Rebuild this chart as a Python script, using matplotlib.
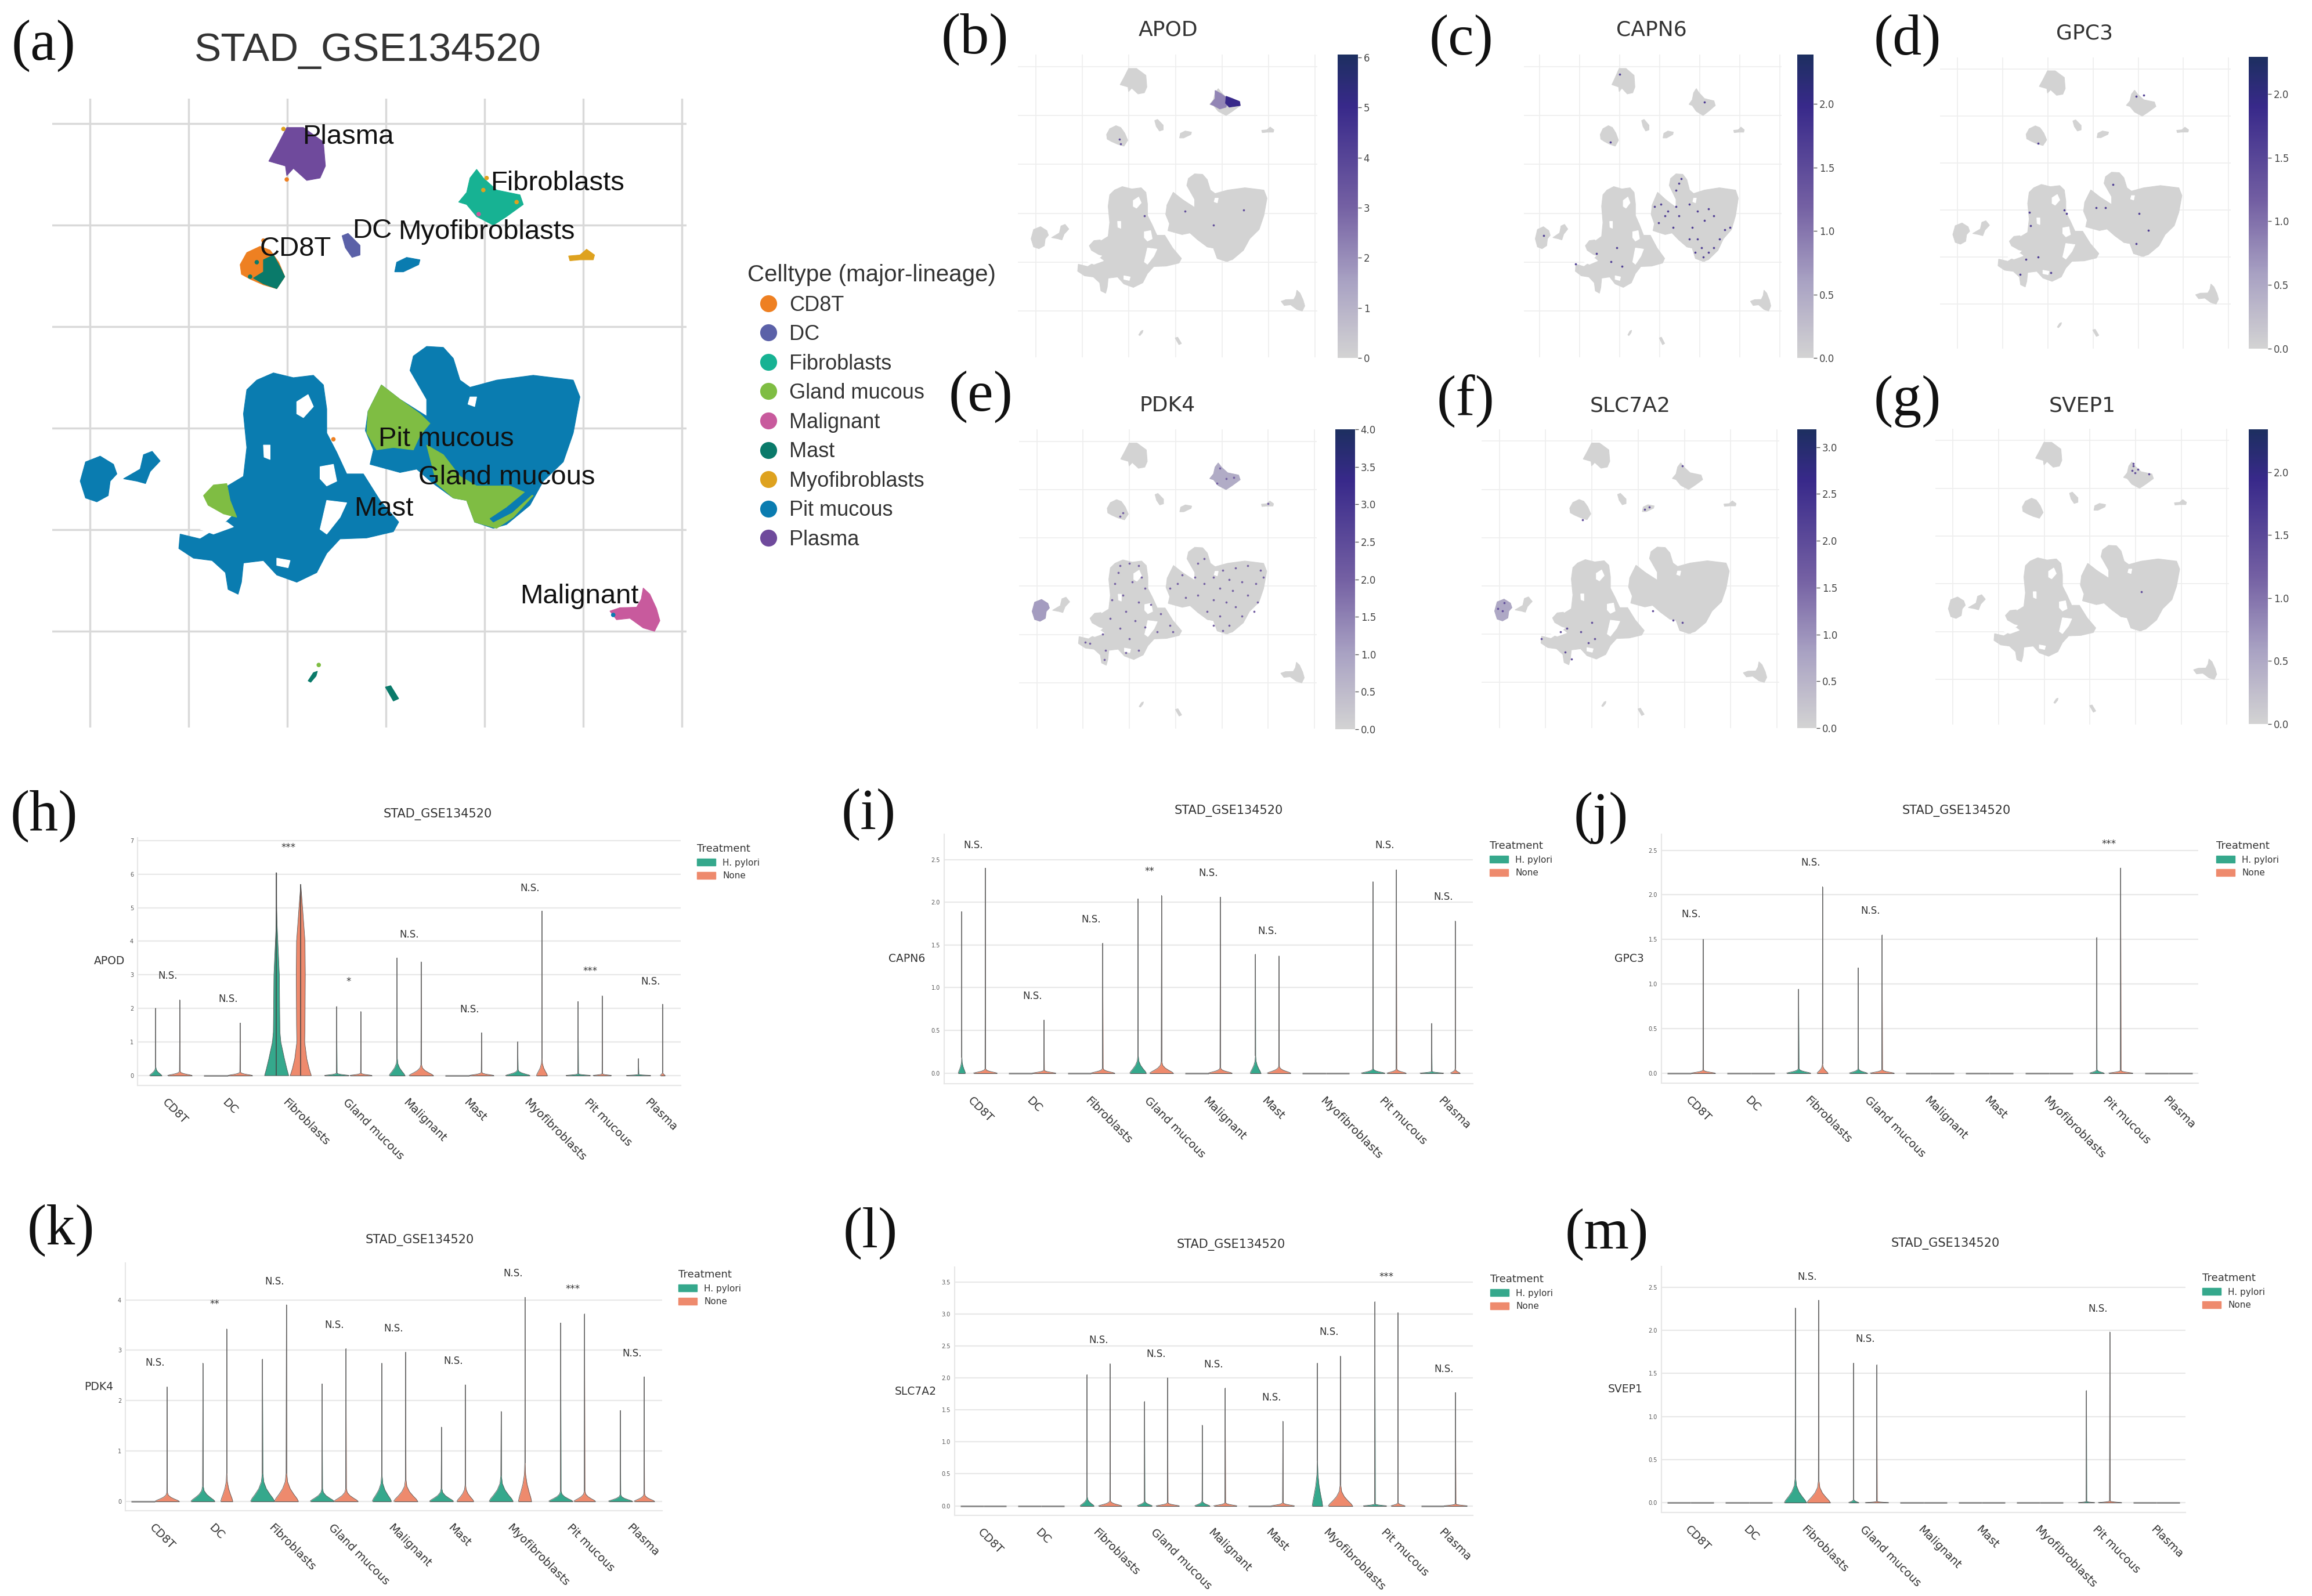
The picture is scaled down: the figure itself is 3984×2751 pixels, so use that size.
import numpy as np
import matplotlib
matplotlib.use("Agg")
import matplotlib.pyplot as plt
from matplotlib.colors import LinearSegmentedColormap, Normalize
from matplotlib.cm import ScalarMappable
from matplotlib.lines import Line2D
from matplotlib.patches import Patch

W, H = 3984, 2751
SANS = "Liberation Sans"
SERIF = "Liberation Serif"

celltypes = ["CD8T", "DC", "Fibroblasts", "Gland mucous", "Malignant", "Mast",
             "Myofibroblasts", "Pit mucous", "Plasma"]
celltype_colors = ["#ee8022", "#5b61a8", "#17b293", "#7fbd43", "#c85a9d", "#0a7a6a",
                   "#dea21f", "#0a7cb0", "#6f4a9c"]
GREY = "#d3d3d3"
HP_COLOR = "#35a88c"
NONE_COLOR = "#ee8a6d"

# umap outlines, one unit = one pixel of the zoomed panel (a)
pit_left = [(385, 790), (410, 775), (440, 785), (470, 780), (485, 800), (490, 850), (490, 900), (505, 940),
            (520, 985), (545, 985), (570, 1040), (598, 1085), (590, 1105), (550, 1118), (510, 1120), (490, 1150),
            (475, 1190), (445, 1210), (415, 1195), (395, 1165), (365, 1170), (362, 1210), (357, 1235), (342, 1225),
            (338, 1190), (318, 1165), (290, 1160), (268, 1140), (270, 1110), (300, 1120), (335, 1090), (350, 1070),
            (340, 1040), (335, 1015), (365, 990), (370, 930), (365, 860), (370, 810)]
pit_right = [(620, 740), (640, 720), (665, 722), (680, 745), (690, 790), (705, 805), (745, 790), (800, 780),
             (860, 790), (870, 825), (860, 900), (845, 960), (815, 1000), (795, 1050), (760, 1090), (740, 1098),
             (712, 1085), (700, 1040), (680, 1035), (650, 1005), (625, 975), (600, 982), (555, 965), (560, 935),
             (548, 895), (552, 855), (572, 800), (600, 830), (640, 865), (640, 830), (615, 770)]
pit_satellite = [(120, 1000), (128, 960), (150, 948), (170, 965), (175, 985), (165, 1000), (162, 1030), (145, 1043),
                 (128, 1035)]
pit_satellite_2 = [(215, 945), (228, 938), (240, 958), (225, 980), (218, 1005), (205, 1000), (185, 995), (210, 975)]
pit_small = [(595, 545), (610, 535), (630, 540), (628, 550), (605, 565), (592, 565)]
gland_left = [(305, 1030), (320, 1008), (340, 1005), (345, 1040), (355, 1075), (335, 1068), (312, 1050)]
gland_upper = [(572, 800), (600, 830), (630, 860), (645, 880), (630, 905), (620, 935), (590, 930), (565, 935),
               (550, 900), (552, 855)]
gland_lower = [(640, 925), (665, 945), (690, 990), (715, 1010), (765, 1010), (790, 1025), (800, 1030), (770, 1075),
               (745, 1098), (712, 1085), (700, 1040), (680, 1035), (655, 1005)]
pit_streak = [(735, 1078), (760, 1055), (795, 1015), (800, 1025), (768, 1065), (740, 1085)]
malignant = [(965, 1222), (975, 1235), (985, 1265), (990, 1290), (982, 1312), (965, 1305), (945, 1285), (925, 1288),
             (915, 1270), (930, 1263), (955, 1262), (962, 1245)]
plasma = [(430, 265), (455, 265), (485, 295), (488, 345), (480, 370), (460, 375), (440, 350), (430, 365), (428, 345),
          (403, 335), (415, 305)]
fibroblasts = [(715, 352), (725, 370), (745, 395), (780, 405), (785, 425), (760, 450), (740, 468), (715, 450),
               (700, 425), (688, 420), (700, 400), (705, 370)]
dc = [(513, 490), (522, 485), (540, 510), (540, 530), (528, 535), (518, 515)]
myofibroblasts = [(853, 532), (870, 530), (880, 518), (892, 530), (890, 540), (870, 540), (855, 542)]
cd8t = [(360, 550), (370, 525), (390, 512), (405, 520), (418, 545), (427, 575), (415, 600), (395, 592), (375, 580),
        (362, 570)]
mast_on_cd8t = [(395, 540), (410, 530), (420, 555), (427, 575), (415, 600), (395, 590), (380, 578), (395, 565)]
mast_small_1 = [(462, 1415), (470, 1398), (476, 1395), (474, 1405), (466, 1418)]
mast_small_2 = [(578, 1428), (586, 1425), (598, 1452), (590, 1457)]

holes = [
    [(445, 835), (462, 820), (470, 845), (455, 868), (445, 860)],
    [(480, 970), (500, 965), (505, 1000), (490, 1010), (480, 995)],
    [(490, 1040), (520, 1045), (510, 1075), (490, 1110), (480, 1100)],
    [(300, 1100), (340, 1085), (350, 1095), (320, 1110)],
    [(395, 925), (405, 925), (405, 955), (396, 950)],
    [(705, 825), (715, 825), (712, 845), (702, 840)],
    [(415, 1160), (435, 1165), (432, 1180), (415, 1175)],
]

main_polygons = [
    (pit_left, "Pit mucous"), (pit_right, "Pit mucous"), (pit_satellite, "Pit mucous"),
    (pit_satellite_2, "Pit mucous"), (pit_small, "Pit mucous"), (gland_left, "Gland mucous"),
    (gland_upper, "Gland mucous"), (gland_lower, "Gland mucous"), (pit_streak, "Pit mucous"),
    (malignant, "Malignant"), (plasma, "Plasma"), (fibroblasts, "Fibroblasts"), (dc, "DC"),
    (myofibroblasts, "Myofibroblasts"), (cd8t, "CD8T"), (mast_on_cd8t, "Mast"),
    (mast_small_1, "Mast"), (mast_small_2, "Mast"),
]

label_names = ["Plasma", "Fibroblasts", "DC", "Myofibroblasts", "CD8T", "Pit mucous", "Gland mucous", "Mast", "Malignant"]
label_x = [522, 836, 558, 730, 443, 669, 760, 576, 869]
label_y = [285, 381, 480, 482, 517, 913, 992, 1057, 1240]

# stray cells in (a)
stray_x = [730, 775, 725, 718, 500, 430, 478, 920, 375, 385, 405, 395, 425]
stray_y = [370, 420, 395, 445, 913, 373, 1382, 1278, 575, 545, 575, 500, 268]
stray_type = ["Myofibroblasts", "Myofibroblasts", "Myofibroblasts", "Malignant", "CD8T", "CD8T", "Gland mucous",
              "Pit mucous", "Mast", "Mast", "Mast", "CD8T", "Myofibroblasts"]

# feature plots: dots that are not grey
apod_x = [400, 405, 700, 610, 480, 795]
apod_y = [570, 590, 940, 880, 900, 875]
capn6_x = [560, 585, 600, 575, 610, 640, 660, 650, 640, 690, 720, 700, 745, 760, 780, 720, 735, 740, 710, 760, 780,
           800, 840, 820, 690, 630, 650, 420, 400, 440, 345, 268, 150, 398, 432, 745]
capn6_y = [860, 850, 900, 930, 880, 790, 740, 760, 860, 850, 880, 950, 920, 870, 900, 1000, 1040, 1080, 1060, 1060,
           1040, 1000, 950, 960, 1000, 950, 900, 1040, 1100, 1120, 1065, 1110, 985, 582, 290, 410]
gpc3_x = [375, 370, 485, 492, 620, 590, 645, 730, 760, 720, 400, 360, 440, 340, 400, 720, 745]
gpc3_y = [960, 900, 890, 905, 880, 880, 775, 905, 980, 1040, 1100, 1110, 1170, 1180, 590, 380, 375]
pdk4_x = [400, 430, 460, 395, 470, 385, 440, 480, 410, 375, 460, 500, 420, 370, 450, 530, 400, 480, 560, 520, 345,
          290, 305, 355, 350, 430, 460, 420, 570, 585, 560, 600, 610, 650, 670, 640, 700, 730, 770, 810, 850, 750,
          790, 835, 860, 720, 760, 810, 840, 700, 740, 770, 720, 680, 790, 750, 730, 700, 650, 670, 830, 720, 740,
          710, 765, 875, 400, 410]
pdk4_y = [800, 790, 800, 830, 850, 880, 870, 900, 930, 950, 960, 970, 1000, 1030, 1040, 1010, 1075, 1070, 1060, 1090,
          1100, 1135, 1140, 1170, 1210, 1120, 1170, 1180, 1090, 880, 900, 840, 940, 790, 770, 850, 850, 820, 810, 800,
          820, 860, 870, 880, 850, 900, 910, 930, 960, 950, 960, 980, 1020, 1000, 1020, 1060, 1085, 1060, 930, 880,
          1000, 375, 420, 440, 415, 530, 585, 570]
slc7a2_x = [440, 430, 395, 330, 350, 270, 345, 365, 420, 600, 615, 720, 625, 690, 720, 400, 145, 150, 130]
slc7a2_y = [1120, 1050, 1090, 1090, 1075, 1120, 1180, 1210, 1140, 555, 545, 365, 1000, 1040, 1050, 600, 1000, 965, 990]
svep1_x = [720, 715, 725, 735, 770, 745, 720]
svep1_y = [370, 390, 400, 385, 405, 925, 360]

# filled regions of expression on top of the grey map
apod_medium = [(705, 360), (725, 375), (745, 395), (740, 432), (720, 440), (700, 425), (690, 420), (705, 395)]
apod_dark = [(740, 385), (760, 395), (783, 408), (785, 425), (750, 432), (738, 415)]

feature_genes = ["APOD", "CAPN6", "GPC3", "PDK4", "SLC7A2", "SVEP1"]
feature_vmax = [6.06, 2.39, 2.29, 4.0, 3.19, 2.34]
feature_ticks = [[0, 1, 2, 3, 4, 5, 6],
                 [0.0, 0.5, 1.0, 1.5, 2.0],
                 [0.0, 0.5, 1.0, 1.5, 2.0],
                 [0.0, 0.5, 1.0, 1.5, 2.0, 2.5, 3.0, 3.5, 4.0],
                 [0.0, 0.5, 1.0, 1.5, 2.0, 2.5, 3.0],
                 [0.0, 0.5, 1.0, 1.5, 2.0]]
feature_dots = [(apod_x, apod_y), (capn6_x, capn6_y), (gpc3_x, gpc3_y), (pdk4_x, pdk4_y), (slc7a2_x, slc7a2_y),
                (svep1_x, svep1_y)]
feature_regions = [[(apod_medium, 2.2), (apod_dark, 5.0)], [], [],
                   [(pit_satellite, 1.1), (fibroblasts, 0.8)], [(pit_satellite, 0.7)], []]
feature_dot_level = [0.6, 0.7, 0.7, 0.5, 0.6, 0.6]

# violin panels: per cell type, top of the whisker, half width at the base, height of the bell
apod_max_hp = [2.0, 0, 6.05, 2.05, 3.5, 0, 1.0, 2.2, 0.5]
apod_max_none = [2.25, 1.56, 5.7, 1.9, 3.38, 1.27, 4.9, 2.37, 2.12]
apod_half_hp = [0.1, 0.2, 0.2, 0.2, 0.13, 0.2, 0.2, 0.2, 0.2]
apod_half_none = [0.2, 0.2, 0.175, 0.18, 0.2, 0.2, 0.09, 0.15, 0.04]
apod_top_hp = [0.25, 0, 0, 0.07, 0.5, 0, 0.17, 0.05, 0.03]
apod_top_none = [0.12, 0.1, 0, 0.07, 0.32, 0.09, 0.5, 0.05, 0.1]
apod_sig = ["N.S.", "N.S.", "***", "*", "N.S.", "N.S.", "N.S.", "***", "N.S."]
apod_sig_y = [2.97, 2.27, 6.79, 2.8, 4.2, 1.96, 5.58, 3.1, 2.8]

# fibroblasts in APOD are the only real spindles
apod_fib_hp_y = [0, 0.2, 0.5, 1.0, 1.3, 2, 3, 4, 4.5, 5, 6.05]
apod_fib_hp_w = [0.2, 0.17, 0.13, 0.07, 0.055, 0.05, 0.045, 0.02, 0.008, 0.002, 0]
apod_fib_none_y = [0, 0.2, 0.5, 1, 1.5, 3, 4, 5, 5.7]
apod_fib_none_w = [0.175, 0.14, 0.1, 0.065, 0.07, 0.075, 0.07, 0.03, 0]

capn6_max_hp = [1.89, 0, 0, 2.04, 0, 1.39, 0, 2.24, 0.58]
capn6_max_none = [2.4, 0.62, 1.52, 2.08, 2.06, 1.37, 0, 2.38, 1.78]
capn6_half_hp = [0.06, 0.2, 0.2, 0.14, 0.2, 0.09, 0.2, 0.2, 0.2]
capn6_half_none = [0.2, 0.2, 0.2, 0.2, 0.2, 0.2, 0.2, 0.16, 0.08]
capn6_top_hp = [0.18, 0, 0, 0.2, 0, 0.2, 0, 0.05, 0.02]
capn6_top_none = [0.05, 0.035, 0.055, 0.13, 0.06, 0.08, 0, 0.05, 0.05]
capn6_sig = ["N.S.", "N.S.", "N.S.", "**", "N.S.", "N.S.", "", "N.S.", "N.S."]
capn6_sig_y = [2.67, 0.9, 1.8, 2.36, 2.34, 1.66, 0, 2.67, 2.06]

gpc3_max_hp = [0, 0, 0.94, 1.18, 0, 0, 0, 1.52, 0]
gpc3_max_none = [1.5, 0, 2.09, 1.55, 0, 0, 0, 2.3, 0]
gpc3_half_hp = [0.2, 0.2, 0.2, 0.15, 0.2, 0.2, 0.2, 0.12, 0.2]
gpc3_half_none = [0.2, 0.2, 0.09, 0.2, 0.2, 0.2, 0.2, 0.2, 0.2]
gpc3_top_hp = [0, 0, 0.05, 0.05, 0, 0, 0, 0.04, 0]
gpc3_top_none = [0.035, 0, 0.1, 0.04, 0, 0, 0, 0.03, 0]
gpc3_sig = ["N.S.", "", "N.S.", "N.S.", "", "", "", "***", ""]
gpc3_sig_y = [1.78, 0, 2.36, 1.82, 0, 0, 0, 2.57, 0]

pdk4_max_hp = [0, 2.74, 2.82, 2.33, 2.74, 1.47, 1.78, 3.54, 1.8]
pdk4_max_none = [2.27, 3.42, 3.9, 3.03, 2.96, 2.31, 4.05, 3.72, 2.47]
pdk4_half_hp = [0.2, 0.2, 0.2, 0.2, 0.16, 0.2, 0.2, 0.2, 0.2]
pdk4_half_none = [0.2, 0.1, 0.2, 0.2, 0.2, 0.14, 0.11, 0.18, 0.17]
pdk4_top_hp = [0, 0.3, 0.55, 0.25, 0.5, 0.25, 0.5, 0.2, 0.13]
pdk4_top_none = [0.17, 0.55, 0.55, 0.25, 0.42, 0.33, 0.75, 0.2, 0.15]
pdk4_sig = ["N.S.", "**", "N.S.", "N.S.", "N.S.", "N.S.", "N.S.", "***", "N.S."]
pdk4_sig_y = [2.75, 3.92, 4.37, 3.5, 3.43, 2.79, 4.53, 4.22, 2.94]

slc7a2_max_hp = [0, 0, 2.05, 1.63, 1.26, 0, 2.23, 3.19, 0]
slc7a2_max_none = [0, 0, 2.22, 2.0, 1.84, 1.32, 2.34, 3.02, 1.77]
slc7a2_half_hp = [0.2, 0.2, 0.12, 0.13, 0.13, 0.2, 0.09, 0.2, 0.2]
slc7a2_half_none = [0.2, 0.2, 0.2, 0.2, 0.2, 0.2, 0.21, 0.12, 0.2]
slc7a2_top_hp = [0, 0, 0.14, 0.08, 0.08, 0, 0.7, 0.03, 0]
slc7a2_top_none = [0, 0, 0.08, 0.05, 0.05, 0.05, 0.32, 0.05, 0.03]
slc7a2_sig = ["", "", "N.S.", "N.S.", "N.S.", "N.S.", "N.S.", "***", "N.S."]
slc7a2_sig_y = [0, 0, 2.59, 2.37, 2.21, 1.69, 2.72, 3.58, 2.14]

svep1_max_hp = [0, 0, 2.26, 1.62, 0, 0, 0, 1.3, 0]
svep1_max_none = [0, 0, 2.35, 1.6, 0, 0, 0, 1.98, 0]
svep1_half_hp = [0.2, 0.2, 0.19, 0.085, 0.2, 0.2, 0.2, 0.14, 0.2]
svep1_half_none = [0.2, 0.2, 0.2, 0.2, 0.2, 0.2, 0.2, 0.2, 0.2]
svep1_top_hp = [0, 0, 0.28, 0.04, 0, 0, 0, 0.015, 0]
svep1_top_none = [0, 0, 0.25, 0.015, 0, 0, 0, 0.02, 0]
svep1_sig = ["", "", "N.S.", "N.S.", "", "", "", "N.S.", ""]
svep1_sig_y = [0, 0, 2.62, 1.9, 0, 0, 0, 2.25, 0]

# shape of a bell, relative to its height and base width
BELL_Y = [0, 0.1, 0.25, 0.45, 0.7, 1.0]
BELL_W = [1, 0.88, 0.62, 0.32, 0.1, 0.03]

cmap = LinearSegmentedColormap.from_list(
    "expr", [(0, GREY), (0.25, "#a9a2c3"), (0.5, "#7460a3"), (0.83, "#38298a"), (1, "#1d2f60")])

fig = plt.figure(figsize=(W / 100, H / 100), dpi=100, facecolor="white")


def px_axes(left, top, right, bottom):
    return fig.add_axes([left / W, 1 - bottom / H, (right - left) / W, (bottom - top) / H])


def px_text(x, y, s, **kw):
    kw.setdefault("ha", "center")
    kw.setdefault("va", "center")
    fig.text(x / W, 1 - y / H, s, **kw)


def setup_umap(ax, grid_color, grid_lw):
    ax.set_xlim(78, 1030)
    ax.set_ylim(1512, 205)
    ax.set_xticks([135, 283, 431, 579, 727, 875, 1023])
    ax.set_yticks([257, 468, 679, 890, 1101, 1312])
    ax.tick_params(length=0, labelbottom=False, labelleft=False)
    ax.grid(True, color=grid_color, lw=grid_lw)
    ax.set_axisbelow(True)
    for sp in ax.spines.values():
        sp.set_visible(False)


def draw_polygon(ax, pts, color):
    pts = np.array(pts)
    ax.fill(pts[:, 0], pts[:, 1], color=color, lw=0.8, zorder=2)


# panel (a)
ax = px_axes(90, 170, 1183, 1254)
setup_umap(ax, "#d9d9d9", 2.5)
color_of = dict(zip(celltypes, celltype_colors))
for pts, name in main_polygons:
    draw_polygon(ax, pts, color_of[name])
for pts in holes:
    draw_polygon(ax, pts, "white")
ax.scatter(stray_x, stray_y, s=30, c=[color_of[t] for t in stray_type], lw=0, zorder=3)
for name, x, y in zip(label_names, label_x, label_y):
    ax.text(x, y, name, ha="center", va="center", fontsize=34, family=SANS, color="#111111", zorder=4)
px_text(634, 87, "STAD_GSE134520", fontsize=50, family=SANS, color="#333333")
handles = [Line2D([], [], ls="none", marker="o", ms=21, mew=0, color=c, label=n)
           for n, c in zip(celltypes, celltype_colors)]
leg = ax.legend(handles=handles, title="Celltype (major-lineage)", loc="upper left", frameon=False,
                bbox_to_anchor=(1288 / W, 1 - 455 / H), bbox_transform=fig.transFigure, borderpad=0, borderaxespad=0,
                fontsize=26, title_fontsize=29, alignment="left", handlelength=2, handletextpad=0, labelspacing=0.43,
                numpoints=1, prop={"family": SANS, "size": 26})
leg.get_title().set_family(SANS)
for t in leg.get_texts():
    t.set_color("#333333")
leg.get_title().set_color("#333333")

# panels (b)-(g): axes box, colorbar box, title position
feature_layout = {
    "APOD": ((1754, 94, 2270, 616), (2305, 94, 2340, 617), (2013, 51)),
    "CAPN6": ((2626, 94, 3070, 616), (3097, 94, 3125, 617), (2846, 52)),
    "GPC3": ((3343, 99, 3844, 601), (3875, 98, 3908, 601), (3592, 58)),
    "PDK4": ((1756, 740, 2269, 1256), (2301, 740, 2335, 1257), (2012, 699)),
    "SLC7A2": ((2553, 740, 3066, 1255), (3097, 740, 3130, 1255), (2809, 699)),
    "SVEP1": ((3335, 739, 3841, 1249), (3875, 740, 3908, 1248), (3588, 699)),
}

for gene, vmax, ticks, dots, regions, level in zip(feature_genes, feature_vmax, feature_ticks, feature_dots,
                                                   feature_regions, feature_dot_level):
    box, cbox, title_xy = feature_layout[gene]
    ax = px_axes(*box)
    setup_umap(ax, "#eeeeee", 1.2)
    for pts, name in main_polygons:
        draw_polygon(ax, pts, GREY)
    for pts in holes:
        draw_polygon(ax, pts, "white")
    norm = Normalize(0, vmax)
    for pts, val in regions:
        draw_polygon(ax, pts, cmap(norm(val)))
    ax.scatter(dots[0], dots[1], s=7, color=cmap(level), lw=0, zorder=3)
    px_text(title_xy[0], title_xy[1], gene, fontsize=26, color="#333333")

    cax = px_axes(*cbox)
    cb = fig.colorbar(ScalarMappable(norm=norm, cmap=cmap), cax=cax, ticks=ticks)
    cb.outline.set_visible(False)
    cb.ax.tick_params(labelsize=12, length=4, width=1, color="#555555", labelcolor="#444444", pad=3)
    if gene != "APOD":
        cb.ax.set_yticklabels([f"{t:.1f}" for t in ticks])

# panels (h)-(m)
violin_data = {
    "APOD": (apod_max_hp, apod_max_none, apod_half_hp, apod_half_none, apod_top_hp, apod_top_none, apod_sig, apod_sig_y),
    "CAPN6": (capn6_max_hp, capn6_max_none, capn6_half_hp, capn6_half_none, capn6_top_hp, capn6_top_none, capn6_sig, capn6_sig_y),
    "GPC3": (gpc3_max_hp, gpc3_max_none, gpc3_half_hp, gpc3_half_none, gpc3_top_hp, gpc3_top_none, gpc3_sig, gpc3_sig_y),
    "PDK4": (pdk4_max_hp, pdk4_max_none, pdk4_half_hp, pdk4_half_none, pdk4_top_hp, pdk4_top_none, pdk4_sig, pdk4_sig_y),
    "SLC7A2": (slc7a2_max_hp, slc7a2_max_none, slc7a2_half_hp, slc7a2_half_none, slc7a2_top_hp, slc7a2_top_none, slc7a2_sig, slc7a2_sig_y),
    "SVEP1": (svep1_max_hp, svep1_max_none, svep1_half_hp, svep1_half_none, svep1_top_hp, svep1_top_none, svep1_sig, svep1_sig_y),
}
violin_ticks = {
    "APOD": [0, 1, 2, 3, 4, 5, 6, 7],
    "CAPN6": [0.0, 0.5, 1.0, 1.5, 2.0, 2.5],
    "GPC3": [0.0, 0.5, 1.0, 1.5, 2.0, 2.5],
    "PDK4": [0, 1, 2, 3, 4],
    "SLC7A2": [0.0, 0.5, 1.0, 1.5, 2.0, 2.5, 3.0, 3.5],
    "SVEP1": [0.0, 0.5, 1.0, 1.5, 2.0, 2.5],
}
# box (left, top, right, bottom), pixel of tick 0, pixel of last tick, title xy, ylabel xy, legend x, legend title y
violin_layout = {
    "APOD": ((237, 1444, 1173, 1871), 1853.6, 1449, (754, 1403), (189, 1656), 1201, 1466),
    "CAPN6": ((1627, 1438, 2538, 1868), 1849.6, 1481.7, (2117, 1397), (1563, 1652), 2567, 1461),
    "GPC3": ((2863, 1438, 3788, 1867), 1849.6, 1465.6, (3371, 1398), (2807, 1652), 3819, 1461),
    "PDK4": ((216, 2177, 1141, 2604), 2587.5, 2240.6, (723, 2137), (170, 2391), 1169, 2200),
    "SLC7A2": ((1645, 2184, 2538, 2612), 2595.5, 2209.8, (2121, 2145), (1578, 2399), 2568, 2208),
    "SVEP1": ((2863, 2183, 3766, 2607), 2590, 2219, (3352, 2143), (2801, 2395), 3795, 2206),
}


def draw_violin(ax, x, top, half, bell, color):
    if top == 0:
        ax.hlines(0, x - half, x + half, color="#8a8a8a", lw=2, zorder=3)
        return
    ys = [b * bell for b in BELL_Y] + [top]
    ws = [w * half for w in BELL_W] + [0]
    ax.fill_betweenx(ys, x - np.array(ws), x + np.array(ws), color=color, lw=0, zorder=3)
    ax.plot(x - np.array(ws), ys, color="#555555", lw=0.6, zorder=4)
    ax.plot(x + np.array(ws), ys, color="#555555", lw=0.6, zorder=4)
    ax.hlines(0, x - half, x + half, color="#555555", lw=0.8, zorder=4)
    ax.vlines(x, bell, top, color="#6b6b6b", lw=1.1, zorder=4)


for gene in feature_genes:
    max_hp, max_none, half_hp, half_none, top_hp, top_none, sig, sig_y = violin_data[gene]
    box, y0_px, y1_px, title_xy, ylabel_xy, leg_x, leg_y = violin_layout[gene]
    ticks = violin_ticks[gene]
    ax = px_axes(*box)
    per_value = (y0_px - y1_px) / ticks[-1]
    ax.set_xlim(-0.5, 8.5)
    ax.set_ylim((y0_px - box[3]) / per_value, (y0_px - box[1]) / per_value)

    for i in range(len(celltypes)):
        if gene == "APOD" and celltypes[i] == "Fibroblasts":
            for xc, ys, ws, color in [(i - 0.2, apod_fib_hp_y, apod_fib_hp_w, HP_COLOR),
                                      (i + 0.2, apod_fib_none_y, apod_fib_none_w, NONE_COLOR)]:
                ws = np.array(ws)
                ax.fill_betweenx(ys, xc - ws, xc + ws, color=color, ec="#555555", lw=0.6, zorder=3)
                ax.vlines(xc, 0, ys[-1], color="#444444", lw=1.1, zorder=4)
        else:
            draw_violin(ax, i - 0.2, max_hp[i], half_hp[i], top_hp[i], HP_COLOR)
            draw_violin(ax, i + 0.2, max_none[i], half_none[i], top_none[i], NONE_COLOR)
        if sig[i]:
            ax.text(i, sig_y[i], sig[i], ha="center", va="center", fontsize=12, color="#333333")

    ax.set_xticks(range(len(celltypes)))
    ax.set_xticklabels(celltypes, rotation=-45, ha="left", va="top", rotation_mode="anchor", fontsize=14,
                       color="#333333")
    ax.set_yticks(ticks)
    ax.set_yticklabels([str(t) for t in ticks], fontsize=7, color="#555555")
    ax.tick_params(axis="x", length=0, pad=14)
    ax.tick_params(axis="y", length=0, pad=5)
    ax.grid(True, axis="y", color="#e8e8e8", lw=1.6)
    ax.set_axisbelow(True)
    for name, sp in ax.spines.items():
        sp.set_visible(name in ("left", "bottom"))
        sp.set_color("#e6e6e6")
        sp.set_linewidth(1.5)

    px_text(title_xy[0], title_xy[1], "STAD_GSE134520", fontsize=15, color="#333333")
    px_text(ylabel_xy[0], ylabel_xy[1], gene, fontsize=13.5, color="#333333")
    vleg = ax.legend(handles=[Patch(color=HP_COLOR, label="H. pylori"), Patch(color=NONE_COLOR, label="None")],
                     title="Treatment", loc="upper left", frameon=False,
                     bbox_to_anchor=(leg_x / W, 1 - (leg_y - 12) / H), bbox_transform=fig.transFigure,
                     borderpad=0, borderaxespad=0, fontsize=11, title_fontsize=13, alignment="left",
                     handlelength=2.1, handleheight=0.8, handletextpad=0.8, labelspacing=0.5)
    for t in vleg.get_texts():
        t.set_color("#333333")
    vleg.get_title().set_color("#333333")

panel_letters = ["(a)", "(b)", "(c)", "(d)", "(e)", "(f)", "(g)", "(h)", "(i)", "(j)", "(k)", "(l)", "(m)"]
letter_x = [75, 1680, 2518, 3287, 1690, 2526, 3287, 76, 1497, 2759, 105, 1500, 2769]
letter_y = [79, 68, 70, 70, 684, 692, 692, 1407, 1404, 1410, 2121, 2126, 2128]
for s, x, y in zip(panel_letters, letter_x, letter_y):
    px_text(x, y, s, fontsize=72, family=SERIF, color="#111111")

fig.savefig("out.png", dpi=100)
